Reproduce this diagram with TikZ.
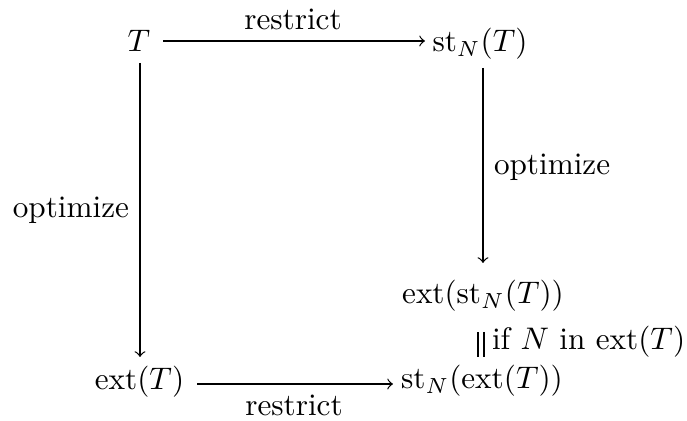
\documentclass[tikz,border=0pt]{standalone}
\usetikzlibrary{calc}
\begin{document}
\begin{tikzpicture}[x=0.3205pt,y=-0.3205pt,
  obj/.style={inner sep=0pt,outer sep=0pt},
  lbl/.style={inner sep=0pt,outer sep=0pt},
  arr/.style={->,line width=0.4pt},
  eqline/.style={double,double distance=1.5pt,line width=0.4pt}]
\useasboundingbox (0,0) rectangle (687,421);
% objects
\node[obj,anchor=base] (T) at (139,52) {$T$};
\node[obj,anchor=base] (stT) at (480,52) {$\mathrm{st}_N(T)$};
\node[obj,anchor=base] (extst) at (483,304) {$\mathrm{ext}(\mathrm{st}_N(T))$};
\node[obj,anchor=base] (extT) at (139.5,390) {$\mathrm{ext}(T)$};
\node[obj,anchor=base] (stext) at (482,389) {$\mathrm{st}_N(\mathrm{ext}(T))$};
% labels
\node[lbl,anchor=base] (lr1) at (293,30) {restrict};
\node[lbl,anchor=base] (lr2) at (294,416) {restrict};
\node[lbl,anchor=base east] (lo1) at (129,218) {optimize};
\node[lbl,anchor=base west] (lo2) at (494,175) {optimize};
\node[lbl,anchor=base west] (lif) at (492,350) {if $N$ in $\mathrm{ext}(T)$};
% arrows
\draw[arr] ($(T.base)+(24,-11)$) -- ($(stT.base)+(-55,-11)$);
\draw[arr] ($(T.base)+(1,11)$) -- ($(extT.base)+(0.5,-33)$);
\draw[arr] ($(stT.base)+(3,16)$) -- ($(extst.base)+(0,-41)$);
\draw[arr] ($(extT.base)+(57.5,-6)$) -- ($(stext.base)+(-89,-5)$);
\draw[eqline] ($(extst.base)+(-2,28)$) -- ($(stext.base)+(-1,-32)$);
\end{tikzpicture}
\end{document}
